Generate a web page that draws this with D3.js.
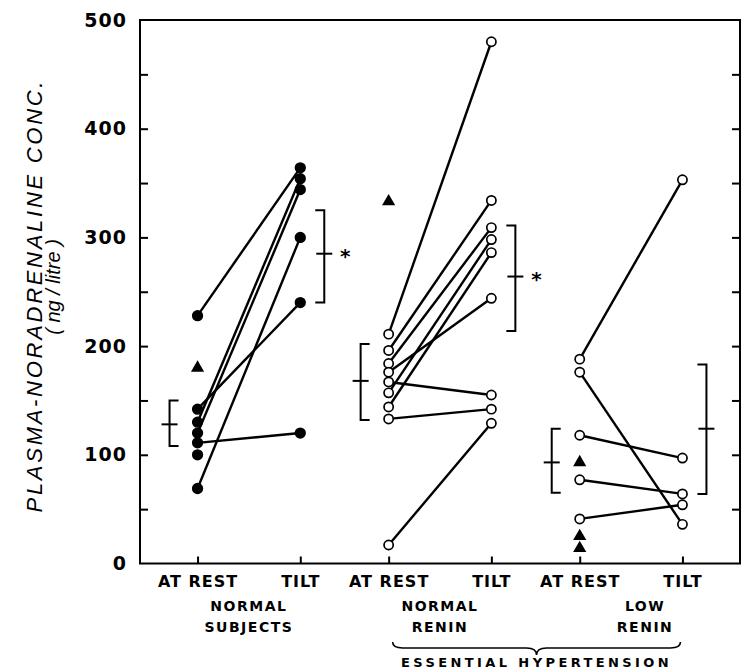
<!DOCTYPE html>
<html>
<head>
<meta charset="utf-8">
<script src="https://cdn.jsdelivr.net/npm/d3@7"></script>
<style>
body { margin: 0; background: #fff; }
</style>
</head>
<body>
<script>
const groups = ["NORMAL SUBJECTS", "NORMAL RENIN", "LOW RENIN"];
const groupLines = [["NORMAL", "SUBJECTS"], ["NORMAL", "RENIN"], ["LOW", "RENIN"]];
const conditions = ["AT REST", "TILT"];
const yTicks = [0, 100, 200, 300, 400, 500];

// [at rest, tilt] per subject
const normalSubjects = [[228, 364], [142, 240], [130, 354], [120, 344], [111, 120], [69, 300]];
const normalRenin = [[211, 480], [196, 334], [184, 309], [176, 244], [167, 155], [157, 298], [144, 286], [133, 142], [17, 129]];
const lowRenin = [[188, 353], [176, 36], [118, 97], [77, 64], [41, 54]];
const restOnly = [[100], [], []];
const triangles = [[180], [333], [93, 25, 14]];

// mean and range brackets
const restMean = [128, 168, 93], restLo = [108, 132, 65], restHi = [150, 202, 124];
const tiltMean = [285, 264, 124], tiltLo = [240, 214, 64], tiltHi = [325, 311, 183];
const significant = [true, true, false];

const pairs = [normalSubjects, normalRenin, lowRenin];

var width = 751, height = 671;
var mLeft = 140, mRight = 740, mTop = 20, mBottom = 563.5;

var svg = d3.select("body")
    .append("svg")
    .attr("width", width)
    .attr("height", height);

var y = d3.scaleLinear().domain([0, 500]).range([mBottom, mTop]);

var xg = d3.scaleBand()
    .domain(groups)
    .range([mLeft, mRight])
    .paddingInner(0)
    .paddingOuter(0.07);

var xc = d3.scalePoint()
    .domain(conditions)
    .range([0, xg.bandwidth()])
    .padding(0.43);

function xr(i) { return xg(groups[i]) + xc("AT REST"); }
function xt(i) { return xg(groups[i]) + xc("TILT"); }

// frame
svg.append("rect")
    .attr("x", mLeft).attr("y", mTop)
    .attr("width", mRight - mLeft).attr("height", mBottom - mTop)
    .attr("fill", "none").attr("stroke", "#000").attr("stroke-width", 2);

// left axis labels
var yl = svg.append("g")
    .attr("transform", "translate(" + mLeft + ",0)")
    .call(d3.axisLeft(y).tickValues(yTicks).tickSize(0).tickPadding(13));
yl.select(".domain").remove();
yl.selectAll("text")
    .style("font-family", "DejaVu Sans")
    .style("font-weight", "bold")
    .style("font-size", "19px")
    .style("letter-spacing", "1px");

// inward minor ticks on both sides
var minor = d3.range(50, 500, 50);
svg.append("g")
    .attr("transform", "translate(" + mLeft + ",0)")
    .call(d3.axisRight(y).tickValues(minor).tickSize(8).tickFormat(""))
    .call(g => g.select(".domain").remove())
    .selectAll("line").attr("stroke-width", 2);
svg.append("g")
    .attr("transform", "translate(" + mRight + ",0)")
    .call(d3.axisLeft(y).tickValues(minor).tickSize(8).tickFormat(""))
    .call(g => g.select(".domain").remove())
    .selectAll("line").attr("stroke-width", 2);

// bottom condition ticks and labels for each group
groups.forEach(function(g) {
    var ax = svg.append("g")
        .attr("transform", "translate(" + xg(g) + "," + mBottom + ")")
        .call(d3.axisBottom(xc).tickSize(-7).tickPadding(12));
    ax.select(".domain").remove();
    ax.selectAll("line").attr("stroke-width", 2);
    ax.selectAll("text")
        .style("font-family", "DejaVu Sans")
        .style("font-weight", "bold")
        .style("font-size", "16px")
        .style("letter-spacing", "1px");
});

// group names
groups.forEach(function(g, i) {
    var cx = (xr(i) + xt(i)) / 2 + (i == 2 ? 14 : 0);
    groupLines[i].forEach(function(t, j) {
        svg.append("text")
            .attr("x", cx)
            .attr("y", 611 + j * 21)
            .attr("text-anchor", "middle")
            .style("font-family", "DejaVu Sans")
            .style("font-weight", "bold")
            .style("font-size", "14px")
            .style("letter-spacing", "1.5px")
            .text(t);
    });
});

// brace for essential hypertension
var bx0 = xr(1) + 4, bx1 = xt(2) - 2, bm = (bx0 + bx1) / 2;
svg.append("path")
    .attr("d", "M" + bx0 + ",642 Q" + bx0 + ",648 " + (bx0 + 10) + ",648 L" + (bm - 10) + ",648 Q" + bm + ",648 " + bm + ",655 Q" + bm + ",648 " + (bm + 10) + ",648 L" + (bx1 - 10) + ",648 Q" + bx1 + ",648 " + bx1 + ",642")
    .attr("fill", "none").attr("stroke", "#000").attr("stroke-width", 1.6);
svg.append("text")
    .attr("x", bm).attr("y", 667)
    .attr("text-anchor", "middle")
    .style("font-family", "DejaVu Sans")
    .style("font-weight", "bold")
    .style("font-size", "13px")
    .style("letter-spacing", "3.4px")
    .text("ESSENTIAL HYPERTENSION");

// y title
svg.append("text")
    .attr("transform", "translate(42,297) rotate(-90)")
    .attr("text-anchor", "middle")
    .attr("textLength", 431)
    .attr("lengthAdjust", "spacing")
    .style("font-family", "Liberation Sans")
    .style("font-style", "italic")
    .style("font-size", "22px")
    .text("PLASMA-NORADRENALINE  CONC.");
svg.append("text")
    .attr("transform", "translate(60,287) rotate(-90)")
    .attr("text-anchor", "middle")
    .style("font-family", "Liberation Sans")
    .style("font-style", "italic")
    .style("font-size", "20px")
    .text("( ng / litre )");

// subject lines and points
pairs.forEach(function(data, i) {
    var g = svg.append("g");
    g.selectAll("line")
        .data(data)
        .enter()
        .append("line")
        .attr("x1", xr(i)).attr("x2", xt(i))
        .attr("y1", d => y(d[0])).attr("y2", d => y(d[1]))
        .attr("stroke", "#000").attr("stroke-width", 2.4);

    var pts = [];
    data.forEach(d => { pts.push([xr(i), d[0]]); pts.push([xt(i), d[1]]); });
    restOnly[i].forEach(v => pts.push([xr(i), v]));

    g.selectAll("circle")
        .data(pts)
        .enter()
        .append("circle")
        .attr("cx", d => d[0])
        .attr("cy", d => y(d[1]))
        .attr("r", i == 0 ? 4.8 : 4.6)
        .attr("fill", i == 0 ? "#000" : "#fff")
        .attr("stroke", "#000")
        .attr("stroke-width", 1.7);

    g.selectAll("path.tri")
        .data(triangles[i])
        .enter()
        .append("path")
        .attr("class", "tri")
        .attr("d", d3.symbol().type(d3.symbolTriangle).size(75))
        .attr("transform", d => "translate(" + xr(i) + "," + y(d) + ")")
        .attr("fill", "#000");
});

// mean +/- brackets
function bracket(x, lo, hi, mean, dir) {
    var s = 9 * dir;
    svg.append("path")
        .attr("d", "M" + (x + s) + "," + y(hi) + " L" + x + "," + y(hi) + " L" + x + "," + y(lo) + " L" + (x + s) + "," + y(lo))
        .attr("fill", "none").attr("stroke", "#000").attr("stroke-width", 2);
    svg.append("line")
        .attr("x1", x - 8).attr("x2", x + 8)
        .attr("y1", y(mean)).attr("y2", y(mean))
        .attr("stroke", "#000").attr("stroke-width", 2);
}
groups.forEach(function(g, i) {
    bracket(xr(i) - 28, restLo[i], restHi[i], restMean[i], 1);
    bracket(xt(i) + 24, tiltLo[i], tiltHi[i], tiltMean[i], -1);
    if (significant[i]) {
        svg.append("text")
            .attr("x", xt(i) + 45)
            .attr("y", y(tiltMean[i]) + 9)
            .attr("text-anchor", "middle")
            .style("font-family", "DejaVu Sans")
            .style("font-weight", "bold")
            .style("font-size", "20px")
            .text("*");
    }
});
</script>
</body>
</html>
